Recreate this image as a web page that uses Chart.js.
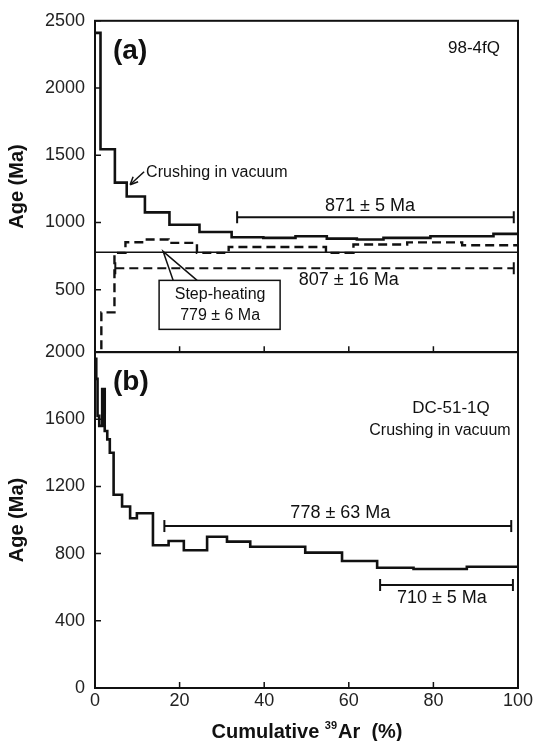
<!DOCTYPE html>
<html>
<head>
<meta charset="utf-8">
<script src="https://cdn.jsdelivr.net/npm/chart.js@4"></script>
<style>
html, body { margin: 0; padding: 0; background: #fff; }
#wrap { position: relative; width: 536px; height: 741px; }
canvas { position: absolute; left: 0; }
#chartA { top: 0; width: 536px; height: 373px; }
#chartB { top: 330px; width: 536px; height: 411px; }
</style>
</head>
<body>
<div id="wrap">
  <canvas id="chartA" width="536" height="373"></canvas>
  <canvas id="chartB" width="536" height="411"></canvas>
</div>
<script>
// axis ticks
var X_TICKS = [0, 20, 40, 60, 80, 100];
var A_TICKS = [500, 1000, 1500, 2000, 2500];
var B_TICKS = [0, 400, 800, 1200, 1600, 2000];

// (a) 98-4fQ crushing in vacuum (step edges in cumulative %, ages in Ma)
var crushA_edges = [0, 1.3, 4.7, 7.5, 11.8, 17.6, 24.7, 32.3, 39.8, 47.4, 54.8, 61.9, 68.2, 79.3, 94.2, 100];
var crushA_ages  = [2410, 1545, 1296, 1193, 1075, 983, 929, 890, 885, 897, 880, 873, 885, 897, 915];

// (a) step-heating
var heatA_edges = [0, 1.5, 4.6, 7.2, 11.5, 17.4, 24.1, 31.6, 54.6, 61.1, 73.8, 86.8, 100];
var heatA_ages  = [0, 331, 774, 853, 873, 848, 774, 818, 774, 836, 852, 831];

// (b) DC-51-1Q crushing in vacuum
var crushB_edges = [0, 0.3, 0.6, 1.0, 1.7, 2.3, 2.9, 3.5, 4.4, 6.4, 8.3, 9.9, 13.7, 17.4, 21.0, 26.5, 31.2, 36.7, 49.7, 58.4, 66.7, 75.3, 87.9, 100];
var crushB_ages  = [1960, 1840, 1620, 1560, 1780, 1530, 1480, 1400, 1150, 1080, 1010, 1040, 850, 875, 820, 900, 871, 841, 806, 756, 716, 708, 722];

// plateau / age bars: [from %, to %], drawn at level (Ma)
var plateau779_level = 779;
var bar871_x = [33.6, 99.0], bar871_level = 1038, bar871_labelX = 65;
var bar807_x = [4.8, 99.0],  bar807_level = 659,  bar807_labelX = 60;
var bar778_x = [16.4, 98.4], bar778_level = 964,  bar778_labelX = 58;
var bar710_x = [67.4, 98.8], bar710_level = 613,  bar710_labelX = 82;

var FONT = '"Liberation Sans", Arial, sans-serif';
var INK = '#111';

function steps(edges, ages) {
  var pts = [];
  for (var i = 0; i < ages.length; i++) {
    pts.push({x: edges[i], y: ages[i]});
    pts.push({x: edges[i + 1], y: ages[i]});
  }
  return pts;
}

function lineSet(data, width, dash) {
  return {
    data: data, showLine: true, borderColor: INK, borderWidth: width,
    borderDash: dash || [], pointRadius: 0, fill: false
  };
}

function barSet(xs, level, dash) {
  return {
    data: [{x: xs[0], y: level}, {x: xs[1], y: level}],
    showLine: true, borderColor: INK, borderWidth: 2, borderDash: dash || [],
    pointStyle: 'line', rotation: 90, pointRadius: 6,
    pointBorderColor: INK, pointBorderWidth: 2, pointBackgroundColor: INK
  };
}

function yScale(min, max, ticks) {
  return {
    type: 'linear', min: min, max: max,
    afterBuildTicks: function (s) { s.ticks = ticks.map(function (v) { return {value: v}; }); },
    grid: {display: false, drawTicks: false},
    border: {display: false},
    ticks: {font: {family: FONT, size: 18}, color: '#222', padding: 10,
            callback: function (v) { return String(v); }},
    title: {display: true, text: 'Age (Ma)', color: INK,
            font: {family: FONT, size: 20, weight: 'bold', lineHeight: 1},
            padding: {top: 7, bottom: 0}},
    afterFit: function (s) { s.width = 95; }
  };
}

function frame(chart) {
  var ctx = chart.ctx, a = chart.chartArea, xs = chart.scales.x, ys = chart.scales.y;
  var yt = chart.options.plugins.frameTicks.y;
  ctx.save();
  ctx.strokeStyle = INK;
  ctx.lineWidth = 2;
  ctx.strokeRect(a.left, a.top, a.right - a.left, a.bottom - a.top);
  ctx.lineWidth = 1.5;
  ctx.beginPath();
  yt.forEach(function (v) {
    var y = ys.getPixelForValue(v);
    ctx.moveTo(a.left, y); ctx.lineTo(a.left + 6, y);
  });
  X_TICKS.forEach(function (v) {
    var x = xs.getPixelForValue(v);
    ctx.moveTo(x, a.bottom); ctx.lineTo(x, a.bottom - 6);
  });
  ctx.stroke();
  ctx.restore();
}

function text(ctx, s, x, y, size, bold, align) {
  ctx.font = (bold ? 'bold ' : '') + size + 'px ' + FONT;
  ctx.textAlign = align || 'center';
  ctx.textBaseline = 'middle';
  ctx.fillStyle = INK;
  ctx.fillText(s, x, y);
}

var notesA = {
  id: 'notesA',
  afterDraw: function (chart) {
    frame(chart);
    var ctx = chart.ctx, a = chart.chartArea, xs = chart.scales.x, ys = chart.scales.y;
    ctx.save();
    text(ctx, '(a)', a.left + 18, a.top + 30, 28, true, 'left');
    text(ctx, '98-4fQ', a.right - 44, a.top + 28, 17);

    // crushing label + arrow
    var tx = xs.getPixelForValue(8.3), ty = ys.getPixelForValue(1280);
    text(ctx, 'Crushing in vacuum', tx + 16, ty - 12, 16, false, 'left');
    ctx.strokeStyle = INK; ctx.lineWidth = 1.5;
    ctx.beginPath(); ctx.moveTo(tx + 14, ty - 13); ctx.lineTo(tx + 1, ty - 1); ctx.stroke();
    ctx.beginPath(); ctx.moveTo(tx, ty); ctx.lineTo(tx + 8, ty - 3); ctx.moveTo(tx, ty); ctx.lineTo(tx + 3, ty - 8); ctx.stroke();

    // bar labels
    text(ctx, '871 \u00b1 5 Ma', xs.getPixelForValue(bar871_labelX), ys.getPixelForValue(bar871_level) - 11, 18);
    text(ctx, '807 \u00b1 16 Ma', xs.getPixelForValue(bar807_labelX), ys.getPixelForValue(bar807_level) + 12, 18);

    // step-heating callout
    var px = xs.getPixelForValue(16.1), py = ys.getPixelForValue(785);
    ctx.lineWidth = 1.5;
    ctx.beginPath();
    ctx.moveTo(px + 10, py + 29); ctx.lineTo(px, py); ctx.lineTo(px + 34, py + 29);
    ctx.stroke();
    ctx.fillStyle = '#fff';
    ctx.fillRect(px - 4, py + 29, 121, 49);
    ctx.strokeRect(px - 4, py + 29, 121, 49);
    text(ctx, 'Step-heating', px + 57, py + 43, 16);
    text(ctx, '779 \u00b1 6 Ma', px + 57, py + 64, 16);
    ctx.restore();
  }
};

var notesB = {
  id: 'notesB',
  afterDraw: function (chart) {
    frame(chart);
    var ctx = chart.ctx, a = chart.chartArea, xs = chart.scales.x, ys = chart.scales.y;
    ctx.save();
    text(ctx, '(b)', a.left + 18, a.top + 30, 28, true, 'left');
    text(ctx, 'DC-51-1Q', a.right - 67, a.top + 56, 17);
    text(ctx, 'Crushing in vacuum', a.right - 78, a.top + 79, 16);
    text(ctx, '778 \u00b1 63 Ma', xs.getPixelForValue(bar778_labelX), ys.getPixelForValue(bar778_level) - 13, 18);
    text(ctx, '710 \u00b1 5 Ma', xs.getPixelForValue(bar710_labelX), ys.getPixelForValue(bar710_level) + 13, 18);

    // x axis title with superscript 39
    var cy = chart.height - 9;
    var p1 = 'Cumulative ', p2 = '39', p3 = 'Ar  (%)';
    ctx.font = 'bold 20px ' + FONT; var w1 = ctx.measureText(p1).width, w3 = ctx.measureText(p3).width;
    ctx.font = 'bold 11px ' + FONT; var w2 = ctx.measureText(p2).width;
    var x0 = (a.left + a.right) / 2 - (w1 + w2 + w3) / 2;
    text(ctx, p1, x0, cy, 20, true, 'left');
    text(ctx, p2, x0 + w1, cy - 6, 11, true, 'left');
    text(ctx, p3, x0 + w1 + w2 + 1, cy, 20, true, 'left');
    ctx.restore();
  }
};

new Chart(document.getElementById('chartA'), {
  type: 'scatter',
  data: {
    datasets: [
      lineSet([{x: 0, y: plateau779_level}, {x: 100, y: plateau779_level}], 1.5),
      lineSet(steps(heatA_edges, heatA_ages), 2.4, [9, 5]),
      lineSet(steps(crushA_edges, crushA_ages), 2.6),
      barSet(bar871_x, bar871_level),
      barSet(bar807_x, bar807_level, [9, 5])
    ]
  },
  options: {
    responsive: false, animation: false,
    layout: {autoPadding: false, padding: {top: 15.2, right: 18, left: 0, bottom: 8}},
    plugins: {legend: {display: false}, tooltip: {enabled: false}, frameTicks: {y: A_TICKS}},
    scales: {
      x: {
        type: 'linear', min: 0, max: 100,
        grid: {display: false, drawTicks: false},
        border: {display: false},
        ticks: {display: false},
        afterFit: function (s) { s.height = 0; }
      },
      y: yScale(35, 2500, A_TICKS)
    }
  },
  plugins: [notesA]
});

new Chart(document.getElementById('chartB'), {
  type: 'scatter',
  data: {
    datasets: [
      lineSet(steps(crushB_edges, crushB_ages), 2.6),
      barSet(bar778_x, bar778_level),
      barSet(bar710_x, bar710_level)
    ]
  },
  options: {
    responsive: false, animation: false,
    layout: {autoPadding: false, padding: {top: 22, right: 18, left: 0, bottom: 0}},
    plugins: {legend: {display: false}, tooltip: {enabled: false}, frameTicks: {y: B_TICKS}},
    scales: {
      x: {
        type: 'linear', min: 0, max: 100,
        afterBuildTicks: function (s) { s.ticks = X_TICKS.map(function (v) { return {value: v}; }); },
        grid: {display: false, drawTicks: false},
        border: {display: false},
        ticks: {font: {family: FONT, size: 18}, color: '#222', padding: 2, maxRotation: 0,
                callback: function (v) { return String(v); }},
        afterFit: function (s) { s.height = 53; }
      },
      y: yScale(0, 2000, B_TICKS)
    }
  },
  plugins: [notesB]
});
</script>
</body>
</html>
